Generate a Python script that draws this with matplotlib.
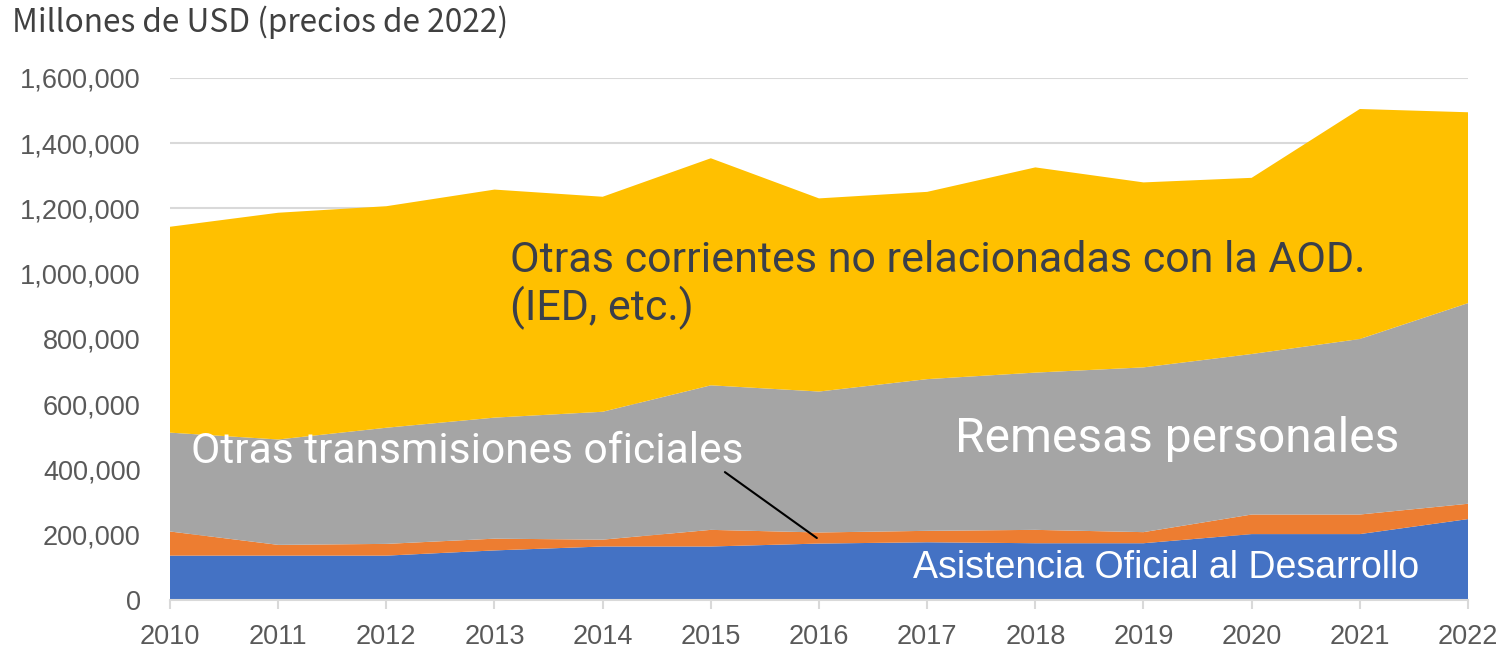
import matplotlib.pyplot as plt
import numpy as np

years = [2010, 2011, 2012, 2013, 2014, 2015, 2016, 2017, 2018, 2019, 2020, 2021, 2022]
# Millones de USD (precios de 2022)
aod = [136000, 136000, 136000, 152000, 164000, 164000, 173000, 177000, 174000, 174000, 202000, 202000, 248000]
otras_oficiales = [74000, 33000, 36000, 36000, 21000, 51000, 34000, 35000, 41000, 34000, 60000, 60000, 47000]
remesas = [303000, 323000, 356000, 371000, 392000, 443000, 432000, 465000, 482000, 505000, 492000, 538000, 615000]
otras_corrientes = [631000, 695000, 679000, 699000, 659000, 696000, 592000, 574000, 629000, 567000, 540000, 705000, 585000]

colors = ['#4472C4', '#ED7D31', '#A5A5A5', '#FFC000']
yticks = [0, 200000, 400000, 600000, 800000, 1000000, 1200000, 1400000, 1600000]

fig = plt.figure(figsize=(15.01, 6.57), dpi=100)
ax = fig.add_axes([170/1501, 1-600/657, (1468-170)/1501, (600-78)/657])

ax.stackplot(years, aod, otras_oficiales, remesas, otras_corrientes, colors=colors, linewidth=0)

ax.set_xlim(2010, 2022)
ax.set_ylim(0, 1600000)
ax.set_yticks(yticks)
ax.set_yticklabels(['{:,}'.format(v) for v in yticks])
ax.set_xticks(years)
ax.set_xticklabels([str(y) for y in years])
ax.grid(axis='y', color='#D9D9D9', linewidth=1.5, zorder=0)
ax.set_axisbelow(True)
for s in ['top', 'right', 'left']:
    ax.spines[s].set_visible(False)
ax.spines['bottom'].set_color('#D9D9D9')
ax.spines['bottom'].set_linewidth(1.5)

ax.tick_params(axis='y', length=0, pad=21, labelsize=19.5, labelcolor='#595959')
ax.tick_params(axis='x', length=6.5, width=1.5, color='#D9D9D9', pad=11, labelsize=19.5, labelcolor='#595959')
for lab in ax.get_xticklabels() + ax.get_yticklabels():
    lab.set_family('Liberation Sans')

fig.text(12/1501, 1-22/657, 'Millones de USD (precios de 2022)', fontsize=22.8,
         family=['Noto Sans CJK JP', 'DejaVu Sans'], color='#404040', va='center', ha='left')

ax.text(2013.14, 965000, 'Otras corrientes no relacionadas con la AOD.\n(IED, etc.)', fontsize=31,
        family='Roboto', color='#3A3F4A', va='center', ha='left', linespacing=1.15)
ax.text(2010.19, 455000, 'Otras transmisiones oficiales', fontsize=30.6, family='Roboto', color='white', va='center', ha='left')
ax.text(2017.26, 492000, 'Remesas personales', fontsize=34.5, family='Roboto', color='white', va='center', ha='left')
ax.text(2016.87, 98000, 'Asistencia Oficial al Desarrollo', fontsize=27, family='Liberation Sans', color='white', va='center', ha='left')
ax.annotate('', xy=(2015.98, 190000), xytext=(2015.13, 392000),
            arrowprops=dict(arrowstyle='-', color='black', lw=1.5, shrinkA=0, shrinkB=0))

plt.savefig('out.png', dpi=100)
